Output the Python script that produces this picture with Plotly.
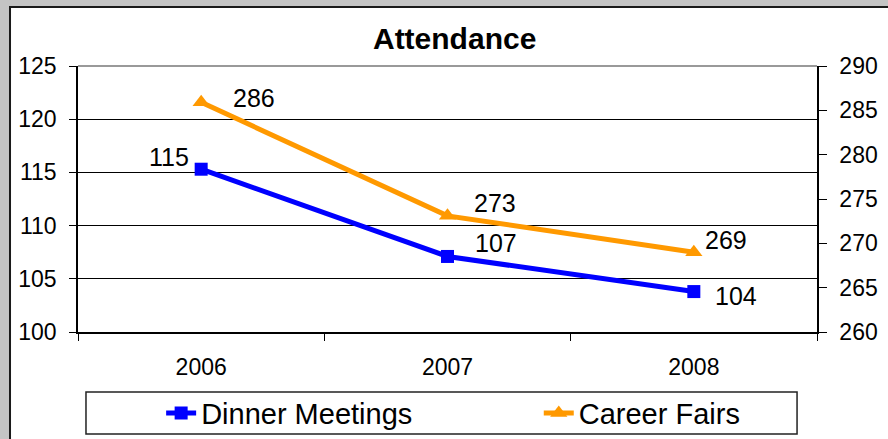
import plotly.graph_objects as go

years = ["2006", "2007", "2008"]
dinner_meetings = [115.3, 107.1, 103.8]
career_fairs = [285.9, 273.1, 269.0]
left_ticks = [100, 105, 110, 115, 120, 125]
right_ticks = [260, 265, 270, 275, 280, 285, 290]

# label offsets in pixels (xshift, yshift, xanchor)
dinner_label_style = [(-10, 12, "right"), (25, 13, "left"), (19, -4, "left")]
career_label_style = [(30, 4, "left"), (24, 13, "left"), (9, 12, "left")]

FONT = "Arial, Liberation Sans, sans-serif"
BLUE = "#0000FF"
ORANGE = "#FF9900"

fig = go.Figure()
fig.add_trace(go.Scatter(
    x=years, y=dinner_meetings, name="Dinner Meetings", mode="lines+markers",
    line=dict(color=BLUE, width=5), marker=dict(symbol="square", size=13, color=BLUE),
    yaxis="y", cliponaxis=False, legend="legend"))
fig.add_trace(go.Scatter(
    x=years, y=career_fairs, name="Career Fairs", mode="lines+markers",
    line=dict(color=ORANGE, width=5), marker=dict(symbol="triangle-up", size=15, color=ORANGE),
    yaxis="y2", cliponaxis=False, legend="legend2"))

for i, (v, (dx, dy, anc)) in enumerate(zip(dinner_meetings, dinner_label_style)):
    fig.add_annotation(x=i, y=v, xref="x", yref="y", text=str(round(v)), showarrow=False,
                       xanchor=anc, yanchor="middle", xshift=dx, yshift=dy,
                       font=dict(family=FONT, size=25, color="black"))
for i, (v, (dx, dy, anc)) in enumerate(zip(career_fairs, career_label_style)):
    fig.add_annotation(x=i, y=v, xref="x", yref="y2", text=str(round(v)), showarrow=False,
                       xanchor=anc, yanchor="middle", xshift=dx, yshift=dy,
                       font=dict(family=FONT, size=25, color="black"))

# white chart area with dark border
fig.add_shape(type="rect", xref="paper", yref="paper", x0=-0.092, x1=1.2, y0=-0.6, y1=1.222,
              fillcolor="white", line=dict(color="#1a1a1a", width=2), layer="below")
# legend box
fig.add_shape(type="rect", xref="paper", yref="paper", x0=0.0108, x1=0.973, y0=-0.383, y1=-0.2256,
              fillcolor="white", line=dict(color="#222222", width=1.5), layer="below")
# top plot border (grey)
fig.add_shape(type="line", xref="paper", yref="paper", x0=0, x1=1, y0=1, y1=1,
              line=dict(color="#999999", width=2))

legend_common = dict(orientation="h", yanchor="middle", y=-0.305, xanchor="left",
                     font=dict(family=FONT, size=29, color="black"), bgcolor="rgba(0,0,0,0)")

fig.update_layout(
    width=888, height=439,
    margin=dict(l=78, r=71, t=66, b=107, autoexpand=False),
    paper_bgcolor="#c4c4c4", plot_bgcolor="white",
    font=dict(family=FONT, color="black"),
    title=dict(text="<b>Attendance</b>", x=0.512, xanchor="center", y=0.913, yanchor="middle",
               font=dict(family=FONT, size=30, color="black")),
    showlegend=True,
    legend=dict(x=0.1125, **legend_common),
    legend2=dict(x=0.6235, **legend_common),
    xaxis=dict(type="category", range=[-0.5, 2.5], tickson="boundaries", ticks="outside",
               ticklen=7, tickcolor="black", showline=True, linecolor="black", linewidth=1.5,
               showgrid=False, tickfont=dict(family=FONT, size=23), ticklabelstandoff=14),
    yaxis=dict(range=[100, 125], tickvals=left_ticks, ticks="outside", ticklen=7,
               tickcolor="black", showline=True, linecolor="black", linewidth=1.5,
               showgrid=True, gridcolor="black", gridwidth=1, zeroline=False,
               tickfont=dict(family=FONT, size=23), ticklabelstandoff=8),
    yaxis2=dict(range=[260, 290], tickvals=right_ticks, overlaying="y", side="right",
                ticks="outside", ticklen=8, tickcolor="black", showline=True, linecolor="black",
                linewidth=1.5, showgrid=False, zeroline=False,
                tickfont=dict(family=FONT, size=23), ticklabelstandoff=8),
)

fig.write_html("out.html", config={"displayModeBar": False},
               post_script="document.body.style.margin='0';")
